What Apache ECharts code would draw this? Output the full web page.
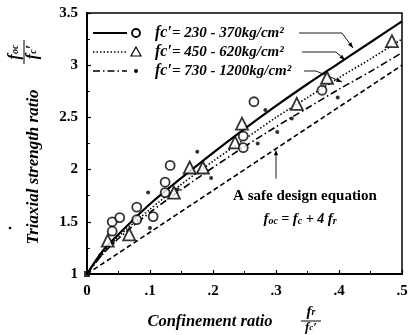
<!DOCTYPE html>
<html><head><meta charset="utf-8">
<script src="https://cdn.jsdelivr.net/npm/echarts@6/dist/echarts.min.js"></script>
<style>html,body{margin:0;padding:0;background:#fff}#c{width:416px;height:335px}</style>
</head><body><div id="c"></div>
<script>
// ---- data ----
const xTicks = [0, 0.1, 0.2, 0.3, 0.4, 0.5];
const yTicks = [1, 1.5, 2, 2.5, 3, 3.5];
const circlePts = [[0.040,1.50],[0.052,1.54],[0.040,1.41],[0.079,1.64],[0.079,1.52],[0.105,1.55],[0.124,1.88],[0.124,1.78],[0.132,2.04],[0.248,2.32],[0.248,2.21],[0.265,2.65],[0.373,2.76]];
const trianglePts = [[0.033,1.32],[0.067,1.38],[0.138,1.78],[0.163,2.02],[0.184,2.02],[0.235,2.26],[0.246,2.44],[0.333,2.63],[0.381,2.88],[0.484,3.23]];
const dotPts = [[0.021,1.18],[0.041,1.30],[0.100,1.44],[0.097,1.78],[0.144,1.81],[0.175,2.17],[0.197,1.92],[0.271,2.25],[0.302,2.36],[0.325,2.49],[0.283,2.57],[0.398,2.69]];
const originPt = [[0,1]];
const solidLine = [[0,1],[0.025,1.22],[0.05,1.38],[0.1,1.67],[0.15,1.92],[0.2,2.16],[0.25,2.39],[0.3,2.61],[0.35,2.82],[0.4,3.02],[0.45,3.22],[0.5,3.42]];
const dottedLine = [[0,1],[0.025,1.20],[0.05,1.36],[0.1,1.62],[0.15,1.86],[0.2,2.08],[0.25,2.29],[0.3,2.50],[0.35,2.69],[0.4,2.88],[0.45,3.06],[0.5,3.25]];
const dashDotLine = [[0,1],[0.025,1.19],[0.05,1.34],[0.1,1.59],[0.15,1.81],[0.2,2.02],[0.25,2.22],[0.3,2.41],[0.35,2.59],[0.4,2.77],[0.45,2.94],[0.5,3.12]];
const safeLine = [[0,1],[0.5,3.0]];
const legendLabels = ['230 - 370kg/cm²', '450 - 620kg/cm²', '730 - 1200kg/cm²'];

const SERIF = '"Liberation Serif","DejaVu Serif",serif';
const chart = echarts.init(document.getElementById('c'), null, {renderer:'canvas'});

function lineSeries(data, type, width){
  return {type:'line', data, smooth:0.3, showSymbol:false, symbol:'none', silent:true, z:2,
    lineStyle:{color:'#000', width, type}};
}
function scatter(data, symbol, size, filled, z){
  return {type:'scatter', data, symbol, symbolSize:size, z, silent:true,
    itemStyle: filled ? {color:'#000', borderWidth:0} : {color:'#fff', borderColor:'#000', borderWidth:1.8}};
}

const option = {
  animation:false,
  grid:{left:87, right:14, top:13, bottom:61, show:true, borderColor:'#000', borderWidth:1.5},
  xAxis:{type:'value', min:0, max:0.5, interval:0.1,
    axisLine:{show:true, lineStyle:{color:'#000', width:2}},
    axisTick:{show:true, inside:true, length:4, lineStyle:{color:'#000', width:1.2}},
    minorTick:{show:true, splitNumber:2, length:3, lineStyle:{color:'#000'}},
    splitLine:{show:false},
    axisLabel:{color:'#000', fontFamily:SERIF, fontWeight:'bold', fontSize:15, margin:10,
      formatter:v=> v===0 ? '0' : '.' + Math.round(v*10)}},
  yAxis:{type:'value', min:1, max:3.5, interval:0.5,
    axisLine:{show:true, lineStyle:{color:'#000', width:2}},
    axisTick:{show:true, inside:true, length:4, lineStyle:{color:'#000', width:1.2}},
    minorTick:{show:true, splitNumber:2, length:3, lineStyle:{color:'#000'}},
    splitLine:{show:false},
    axisLabel:{color:'#000', fontFamily:SERIF, fontWeight:'bold', fontSize:15, margin:9,
      formatter:v=> String(+v.toFixed(1))}},
  series:[
    lineSeries(safeLine, [5,3], 1.6),
    lineSeries(dashDotLine, [7,3,1.5,3], 1.6),
    lineSeries(dottedLine, [1.5,2], 1.6),
    lineSeries(solidLine, 'solid', 2.2),
    scatter(dotPts, 'circle', 4, true, 5),
    scatter(trianglePts, 'triangle', 12, false, 4),
    scatter(circlePts, 'circle', 9, false, 4),
    scatter(originPt, 'rect', 6, true, 6)
  ]
};
chart.setOption(option);

// ---- annotations ----
function arrowHead(x1,y1,x2,y2,size){
  const a = Math.atan2(y2-y1, x2-x1), s = size||6;
  return {type:'polygon', shape:{points:[[x2,y2],[x2 - s*Math.cos(a-0.35), y2 - s*Math.sin(a-0.35)],[x2 - s*Math.cos(a+0.35), y2 - s*Math.sin(a+0.35)]]}, style:{fill:'#000'}};
}
const g = [];
// legend rows
const rowY = [33, 52, 71];
const legendDash = ['solid', [1.5,2], [7,3,1.5,3]];
rowY.forEach((y,i)=>{
  g.push({type:'line', shape:{x1:93,y1:y,x2:127,y2:y}, style:{stroke:'#000', lineWidth: i===0?1.8:1.4, lineDash: i===0?null:legendDash[i]}});
  if(i===0) g.push({type:'circle', shape:{cx:136, cy:y, r:4}, style:{fill:'#fff', stroke:'#000', lineWidth:1.8}});
  if(i===1) g.push({type:'polygon', shape:{points:[[136,y-5],[141,y+4],[131,y+4]]}, style:{fill:'#fff', stroke:'#000', lineWidth:1.2}});
  if(i===2) g.push({type:'circle', shape:{cx:136, cy:y, r:2}, style:{fill:'#000'}});
  g.push({type:'text', x:155, y:y, style:{text:'{a|fc′}{b|= ' + legendLabels[i] + '}', textVerticalAlign:'middle',
    rich:{a:{font:'italic bold 16px ' + SERIF, fill:'#000'}, b:{font:'italic bold 15px ' + SERIF, fill:'#000'}}}});
});
// leader lines
const leaders = [
  [[299,33],[342,33],[353,48]],
  [[302,52],[336,52],[345,60]],
  [[304,71],[316,71],[342,82]]
];
leaders.forEach(pts=>{
  g.push({type:'polyline', shape:{points:pts}, style:{stroke:'#000', lineWidth:0.9, fill:null}});
  const n = pts.length; g.push(arrowHead(pts[n-2][0],pts[n-2][1],pts[n-1][0],pts[n-1][1],6));
});
// safe design note
g.push({type:'text', x:305, y:196, style:{text:'A safe design equation', textAlign:'center', textVerticalAlign:'middle', fill:'#000', font:'bold 15px ' + SERIF}});
g.push({type:'text', x:300, y:219, style:{text:'{f|f}{s|oc}{t| = }{f|f}{s|c}{t| + 4 }{f|f}{s|r}', textAlign:'center', textVerticalAlign:'middle',
  rich:{f:{font:'italic bold 15px ' + SERIF, fill:'#000'}, s:{font:'italic bold 10px ' + SERIF, fill:'#000', verticalAlign:'bottom', padding:[4,0,0,0]}, t:{font:'italic bold 14px ' + SERIF, fill:'#000'}}}});
const tip = chart.convertToPixel({gridIndex:0}, [0.3, 2.2]);
g.push({type:'line', shape:{x1:tip[0], y1:tip[1]+30, x2:tip[0], y2:tip[1]+3}, style:{stroke:'#000', lineWidth:0.9}});
g.push(arrowHead(tip[0], tip[1]+30, tip[0], tip[1]+1, 6));
// y axis title
g.push({type:'text', x:34, y:167, rotation:Math.PI/2, style:{text:'Triaxial strength ratio', textAlign:'center', textVerticalAlign:'middle', fill:'#000', font:'italic bold 17px ' + SERIF}});
g.push({type:'group', x:24, y:52, rotation:Math.PI/2, children:[
  {type:'text', x:0, y:-9, style:{text:'{f|f}{s|oc}', textAlign:'center', textVerticalAlign:'middle', rich:{f:{font:'italic bold 16px ' + SERIF, fill:'#000'}, s:{font:'italic bold 10px ' + SERIF, fill:'#000'}}}},
  {type:'line', shape:{x1:-12,y1:0,x2:12,y2:0}, style:{stroke:'#000', lineWidth:1}},
  {type:'text', x:0, y:9, style:{text:'{f|f}{s|c}{f|′}', textAlign:'center', textVerticalAlign:'middle', rich:{f:{font:'italic bold 16px ' + SERIF, fill:'#000'}, s:{font:'italic bold 10px ' + SERIF, fill:'#000'}}}}
]});
// stray dot
g.push({type:'circle', shape:{cx:10, cy:228, r:1.3}, style:{fill:'#000'}});
// x axis title
g.push({type:'text', x:210, y:322, style:{text:'Confinement ratio', textAlign:'center', textVerticalAlign:'middle', fill:'#000', font:'italic bold 16.5px ' + SERIF}});
g.push({type:'group', x:311, y:321, children:[
  {type:'text', x:0, y:-9, style:{text:'{f|f}{s|r}', textAlign:'center', textVerticalAlign:'middle', rich:{f:{font:'italic bold 15px ' + SERIF, fill:'#000'}, s:{font:'italic bold 10px ' + SERIF, fill:'#000'}}}},
  {type:'line', shape:{x1:-10,y1:0,x2:10,y2:0}, style:{stroke:'#000', lineWidth:1}},
  {type:'text', x:0, y:7, style:{text:'{f|f}{s|c}{f|′}', textAlign:'center', textVerticalAlign:'middle', rich:{f:{font:'italic bold 13px ' + SERIF, fill:'#000'}, s:{font:'italic bold 9px ' + SERIF, fill:'#000'}}}}
]});
chart.setOption({graphic:g});
</script></body></html>
